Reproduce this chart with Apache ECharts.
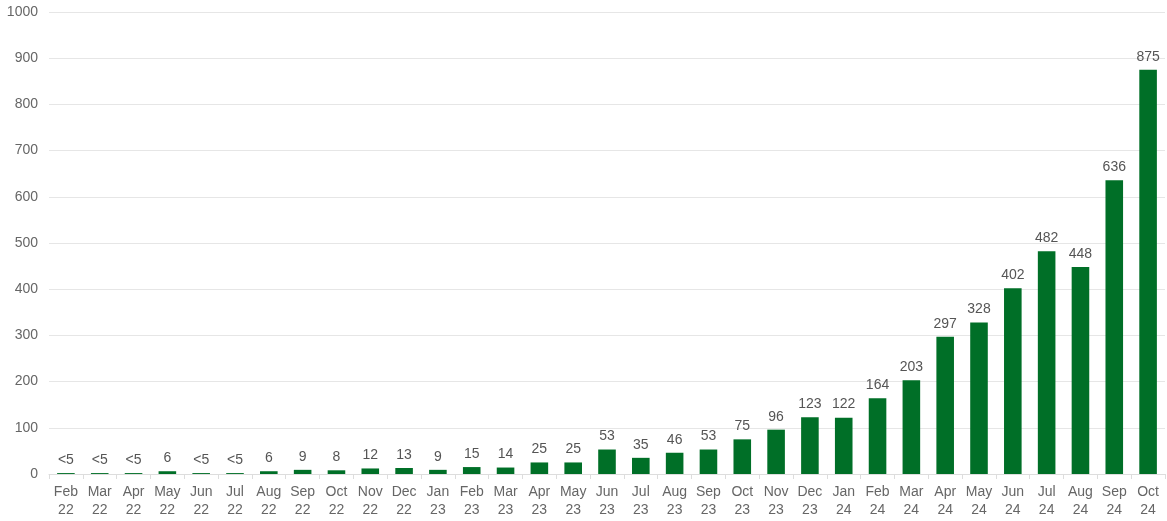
<!DOCTYPE html>
<html><head><meta charset="utf-8">
<script src="https://cdn.jsdelivr.net/npm/echarts@6/dist/echarts.min.js"></script>
<style>html,body{margin:0;padding:0;background:#fff}#c{width:1167px;height:521px}</style>
</head><body><div id="c"></div>
<script>
const categories = ["Feb\n22","Mar\n22","Apr\n22","May\n22","Jun\n22","Jul\n22","Aug\n22","Sep\n22","Oct\n22","Nov\n22","Dec\n22","Jan\n23","Feb\n23","Mar\n23","Apr\n23","May\n23","Jun\n23","Jul\n23","Aug\n23","Sep\n23","Oct\n23","Nov\n23","Dec\n23","Jan\n24","Feb\n24","Mar\n24","Apr\n24","May\n24","Jun\n24","Jul\n24","Aug\n24","Sep\n24","Oct\n24"];
const values = [2,2,2,6,2,2,6,9,8,12,13,9,15,14,25,25,53,35,46,53,75,96,123,122,164,203,297,328,402,482,448,636,875];
const labels = ["<5","<5","<5","6","<5","<5","6","9","8","12","13","9","15","14","25","25","53","35","46","53","75","96","123","122","164","203","297","328","402","482","448","636","875"];
const yTicks = {min:0,max:1000,interval:100};

const chart = echarts.init(document.getElementById('c'));
chart.setOption({
  animation:false,
  grid:{left:49,right:2,top:12,bottom:47,containLabel:false},
  xAxis:{type:'category',data:categories,
    axisLine:{lineStyle:{color:'#ddd'}},
    axisTick:{show:true,lineStyle:{color:'#ddd'}},
    axisLabel:{color:'#666',fontSize:14,lineHeight:18,fontFamily:'Arial, Liberation Sans',margin:9,interval:0}},
  yAxis:{type:'value',min:yTicks.min,max:yTicks.max,interval:yTicks.interval,
    axisLine:{show:false},axisTick:{show:false},
    splitLine:{lineStyle:{color:'#e6e6e6'}},
    axisLabel:{color:'#666',fontSize:14,fontFamily:'Arial, Liberation Sans',margin:11,formatter:v=>String(v)}},
  series:[{type:'bar',data:values,barWidth:'52%',
    itemStyle:{color:'#006f27'},
    label:{show:true,position:'top',distance:6,color:'#555',fontSize:14,fontFamily:'Arial, Liberation Sans',
      formatter:p=>labels[p.dataIndex]}}]
});
</script></body></html>
